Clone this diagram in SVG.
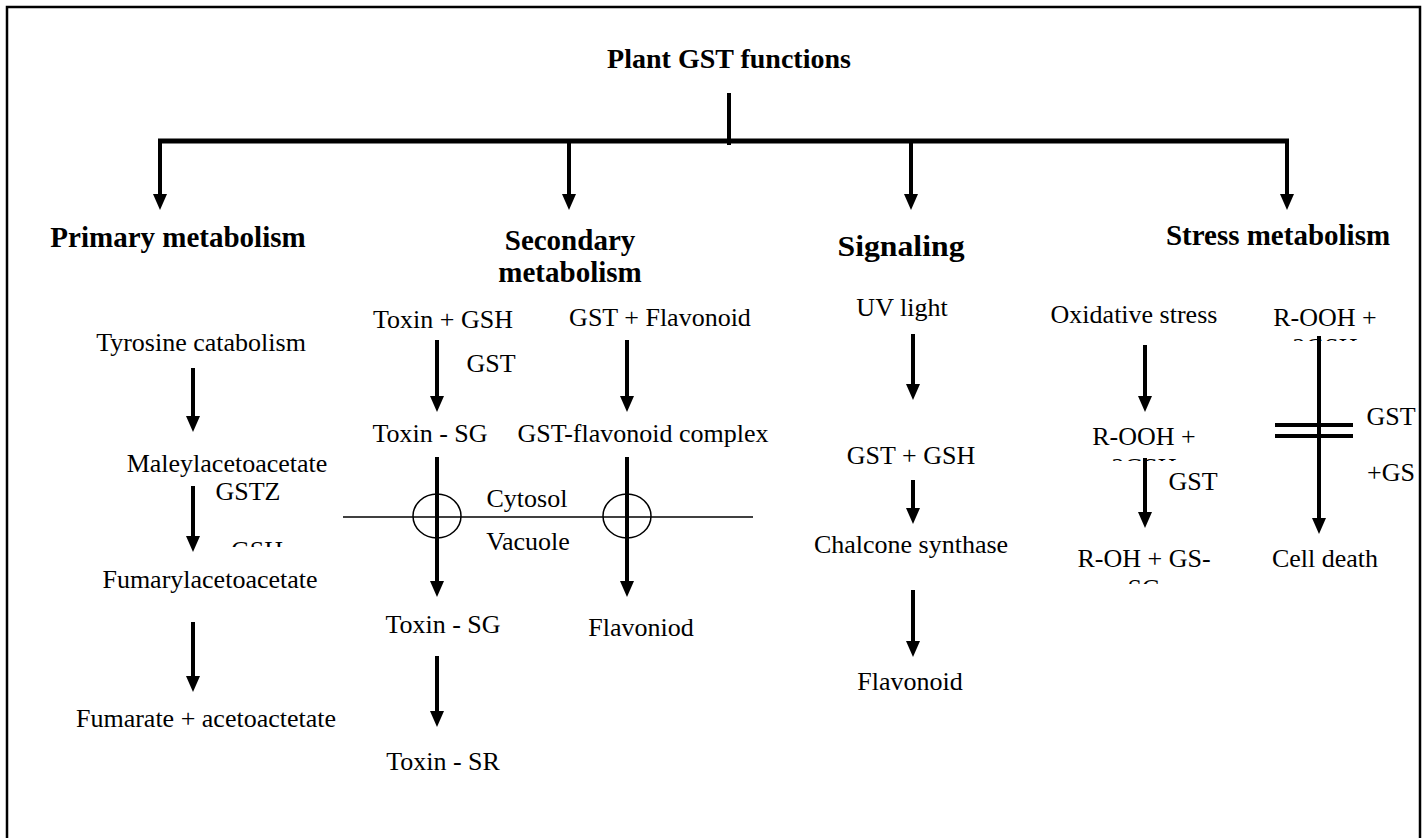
<svg xmlns="http://www.w3.org/2000/svg" width="1426" height="838" viewBox="0 0 1426 838">
<style>
.t{font-family:"Liberation Serif","Times New Roman",serif;font-size:26px;fill:#000;text-anchor:middle}
.b{font-family:"Liberation Serif","Times New Roman",serif;font-size:29px;font-weight:bold;fill:#000;text-anchor:middle}
.a{stroke:#000;stroke-width:4;fill:none;marker-end:url(#ah)}
.l{stroke:#000;fill:none}
</style>
<defs>
<marker id="ah" markerUnits="userSpaceOnUse" orient="auto" markerWidth="20" markerHeight="20" refX="4" refY="0" overflow="visible">
<path d="M0,-7 L16,0 L0,7 Z" fill="#000"/>
</marker>
<clipPath id="c1"><rect x="200" y="470" width="120" height="77"/></clipPath>
<clipPath id="c2"><rect x="1260" y="300" width="140" height="41"/></clipPath>
<clipPath id="c3"><rect x="1080" y="420" width="140" height="41"/></clipPath>
<clipPath id="c4"><rect x="1060" y="540" width="170" height="44"/></clipPath>
</defs>
<rect x="7" y="7" width="1413" height="860" fill="none" stroke="#000" stroke-width="2.5"/>
<g id="connectors">
<line class="l" x1="729" y1="93" x2="729" y2="145" stroke-width="4"/>
<line class="l" x1="158" y1="141" x2="1289" y2="141" stroke-width="5"/>
<line class="a" x1="160" y1="139" x2="160" y2="198"/>
<line class="a" x1="569" y1="139" x2="569" y2="198"/>
<line class="a" x1="911" y1="139" x2="911" y2="198"/>
<line class="a" x1="1287" y1="139" x2="1287" y2="198"/>
<line class="a" x1="193" y1="368" x2="193" y2="420"/>
<line class="a" x1="193" y1="486" x2="193" y2="540"/>
<line class="a" x1="193" y1="622" x2="193" y2="680"/>
<line class="a" x1="437" y1="340" x2="437" y2="400"/>
<line class="a" x1="627" y1="340" x2="627" y2="400"/>
<line class="a" x1="437" y1="457" x2="437" y2="585"/>
<line class="a" x1="627" y1="457" x2="627" y2="585"/>
<line class="a" x1="437" y1="656" x2="437" y2="715"/>
<line class="a" x1="913" y1="334" x2="913" y2="388"/>
<line class="a" x1="913" y1="480" x2="913" y2="512"/>
<line class="a" x1="913" y1="590" x2="913" y2="645"/>
<line class="a" x1="1145" y1="345" x2="1145" y2="400"/>
<line class="a" x1="1145" y1="458" x2="1145" y2="516"/>
<line class="a" x1="1319" y1="336" x2="1319" y2="522"/>
<line class="l" x1="1275" y1="425" x2="1353" y2="425" stroke-width="4"/>
<line class="l" x1="1275" y1="436" x2="1353" y2="436" stroke-width="4"/>
</g>
<g id="membrane">
<line class="l" x1="343" y1="517" x2="753" y2="517" stroke-width="1.5"/>
<ellipse class="l" cx="437" cy="516" rx="24" ry="22" stroke-width="1.5"/>
<ellipse class="l" cx="627" cy="516" rx="24" ry="22" stroke-width="1.5"/>
</g>
<g id="title"><text class="b" x="729" y="68" style="font-size:28px">Plant GST functions</text></g>
<g id="primary"><text class="b" x="178" y="247">Primary metabolism</text></g>
<g id="secondary"><text class="b" x="570" y="250">Secondary</text><text class="b" x="570" y="282">metabolism</text></g>
<g id="signaling"><text class="b" x="901" y="256" textLength="127" lengthAdjust="spacingAndGlyphs">Signaling</text></g>
<g id="stress"><text class="b" x="1278" y="245">Stress metabolism</text></g>
<g id="tyrosine"><text class="t" x="201" y="351">Tyrosine catabolism</text></g>
<g id="maleyl"><text class="t" x="227" y="472">Maleylacetoacetate</text></g>
<g id="gstz"><text class="t" clip-path="url(#c1)"><tspan x="248" y="500">GSTZ</tspan><tspan x="257" y="559">GSH</tspan></text></g>
<g id="fumaryl"><text class="t" x="210" y="588">Fumarylacetoacetate</text></g>
<g id="fumarate"><text class="t" x="206" y="727">Fumarate + acetoactetate</text></g>
<g id="toxin-gsh"><text class="t" x="443" y="328">Toxin + GSH</text></g>
<g id="gst-flav"><text class="t" x="660" y="326">GST + Flavonoid</text></g>
<g id="gst1"><text class="t" x="491" y="372">GST</text></g>
<g id="toxin-sg1"><text class="t" x="430" y="442">Toxin - SG</text></g>
<g id="gst-flav-complex"><text class="t" x="643" y="442">GST-flavonoid complex</text></g>
<g id="cytosol"><text class="t" x="527" y="507">Cytosol</text></g>
<g id="vacuole"><text class="t" x="528" y="550">Vacuole</text></g>
<g id="toxin-sg2"><text class="t" x="443" y="633">Toxin - SG</text></g>
<g id="flavoniod"><text class="t" x="641" y="636">Flavoniod</text></g>
<g id="toxin-sr"><text class="t" x="443" y="770">Toxin - SR</text></g>
<g id="uv"><text class="t" x="902" y="316">UV light</text></g>
<g id="gst-gsh"><text class="t" x="911" y="464">GST + GSH</text></g>
<g id="chalcone"><text class="t" x="911" y="553">Chalcone synthase</text></g>
<g id="flavonoid"><text class="t" x="910" y="690">Flavonoid</text></g>
<g id="oxidative"><text class="t" x="1134" y="323">Oxidative stress</text></g>
<g id="rooh1"><text class="t" clip-path="url(#c2)"><tspan x="1325" y="326">R-OOH +</tspan><tspan x="1325" y="356">2GSH</tspan></text></g>
<g id="rooh2"><text class="t" clip-path="url(#c3)"><tspan x="1144" y="445">R-OOH +</tspan><tspan x="1144" y="476">2GSH</tspan></text></g>
<g id="gst2"><text class="t" x="1193" y="490">GST</text></g>
<g id="roh"><text class="t" clip-path="url(#c4)"><tspan x="1144" y="567">R-OH + GS-</tspan><tspan x="1144" y="597">SG</tspan></text></g>
<g id="gst3"><text class="t" x="1391" y="425">GST</text></g>
<g id="gs"><text class="t" x="1391" y="481">+GS</text></g>
<g id="celldeath"><text class="t" x="1325" y="567">Cell death</text></g>
</svg>
